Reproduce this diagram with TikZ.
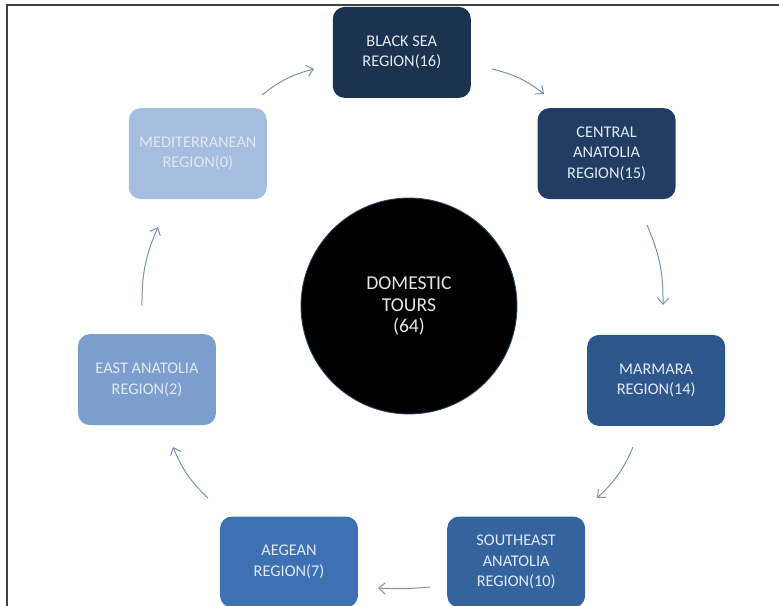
\documentclass[tikz,border=0pt]{standalone}
\usepackage{fontspec}
\setmainfont{Carlito}
\usetikzlibrary{calc,arrows.meta}
\definecolor{bsblue}{HTML}{1C3350}
\definecolor{cablue}{HTML}{213E62}
\definecolor{marblue}{HTML}{2E588C}
\definecolor{seblue}{HTML}{34639E}
\definecolor{aegblue}{HTML}{3E71B4}
\definecolor{eablue}{HTML}{7C9ECE}
\definecolor{medblue}{HTML}{A5BDDE}
\definecolor{regtext}{HTML}{E2E9F3}
\definecolor{flowgray}{HTML}{7990B0}
\definecolor{ringline}{HTML}{2A4467}

\begin{document}
\begin{tikzpicture}[
	region/.style={rounded corners=0.3cm, minimum width=3.45cm, minimum height=2.275cm,
		inner sep=0pt, align=center, text=regtext, font=\fontsize{11.6}{14.6}\selectfont},
	flow/.style={draw=flowgray, line width=0.7pt, -{Straight Barb[length=1.6mm,width=2.8mm]}},
	]
	\useasboundingbox (-10.225,-7.5) rectangle (9.25,7.65);
	\draw[black!75, line width=1pt] (-10.05,-7.5) -- (-10.05,7.525) -- (9.25,7.525);
	
	\node[circle, fill=black, draw=ringline, line width=0.6pt, minimum size=5.4cm,
		align=center, text=black!10, font=\fontsize{14}{15}\selectfont] (tours) at (0,0) {DOMESTIC\\TOURS\\(64)};
	
	\node[region, fill=bsblue] (bs) at ($(tours)+(-0.18,6.34)$) {BLACK SEA\\REGION(16)};
	\node[region, fill=cablue] (ca) at ($(tours)+(4.94,3.81)$) {CENTRAL\\ANATOLIA\\REGION(15)};
	\node[region, fill=marblue] (mar) at ($(tours)+(6.18,-1.86)$) {MARMARA\\REGION(14)};
	\node[region, fill=seblue] (se) at ($(tours)+(2.68,-6.4)$) {SOUTHEAST\\ANATOLIA\\REGION(10)};
	\node[region, fill=aegblue] (aeg) at ($(tours)+(-3.0,-6.4)$) {AEGEAN\\REGION(7)};
	\node[region, fill=eablue] (ea) at ($(tours)+(-6.55,-1.84)$) {EAST ANATOLIA\\REGION(2)};
	\node[region, fill=medblue] (med) at ($(tours)+(-5.28,3.81)$) {MEDITERRANEAN\\REGION(0)};
	
	\coordinate (p1) at ($(tours)+(-3.675,5.275)$);
	\coordinate (q1) at ($(tours)+(-2.375,5.925)$);
	\coordinate (p2) at ($(tours)+(2.075,5.925)$);
	\coordinate (q2) at ($(tours)+(3.375,5.3)$);
	\coordinate (p3) at ($(tours)+(5.95,2.025)$);
	\coordinate (q3) at ($(tours)+(6.35,0.025)$);
	\coordinate (p4) at ($(tours)+(5.6,-3.525)$);
	\coordinate (q4) at ($(tours)+(4.7,-4.8)$);
	\coordinate (p5) at ($(tours)+(0.525,-7.025)$);
	\coordinate (q5) at ($(tours)+(-0.775,-7.05)$);
	\coordinate (p6) at ($(tours)+(-5.025,-4.8)$);
	\coordinate (q6) at ($(tours)+(-5.9,-3.525)$);
	\coordinate (p7) at ($(tours)+(-6.675,0)$);
	\coordinate (q7) at ($(tours)+(-6.275,1.975)$);
	
	\draw[flow] (p1) to[bend left=12] (q1);
	\draw[flow] (p2) to[bend left=12] (q2);
	\draw[flow] (p3) to[bend left=12] (q3);
	\draw[flow] (p4) to[bend left=12] (q4);
	\draw[flow] (p5) to[bend left=4] (q5);
	\draw[flow] (p6) to[bend left=12] (q6);
	\draw[flow] (p7) to[bend left=12] (q7);
\end{tikzpicture}
\end{document}
